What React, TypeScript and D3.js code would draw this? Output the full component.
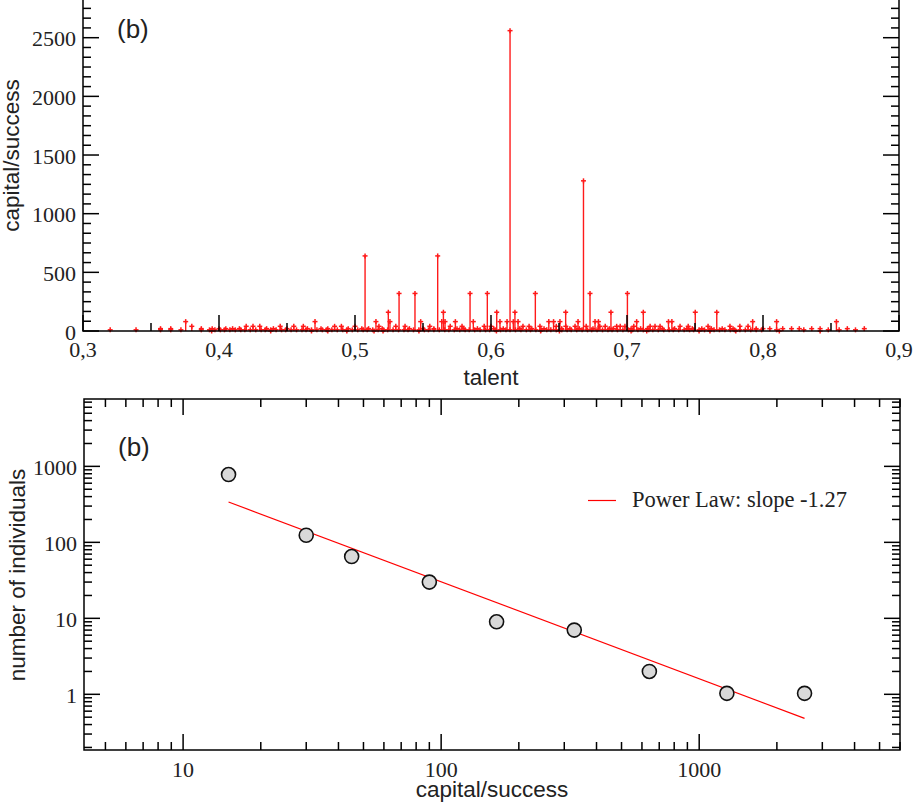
import React from "react";
import * as d3 from "d3";

// ---------- Top panel: capital/success vs talent (stem plot) ----------
const talent2560 = [0.614];
const talent1280 = [0.668];
const talent640 = [0.5074, 0.5608];
const talent320 = [0.5324, 0.5441, 0.5846, 0.5973, 0.6326, 0.6728, 0.7003];
const talent160 = [0.5245, 0.565, 0.6042, 0.6176, 0.6549, 0.6882, 0.712, 0.7502, 0.766];
const talent80 = [
  0.3755, 0.4706, 0.5154, 0.5257, 0.5483, 0.5638, 0.5662, 0.5738, 0.587, 0.6066,
  0.6118, 0.6164, 0.6199, 0.6425, 0.646, 0.6507, 0.664, 0.6765, 0.679, 0.7071,
  0.7305, 0.733, 0.7924, 0.81, 0.854,
];
const talent40 = [
  0.38, 0.42, 0.425, 0.43, 0.445, 0.485, 0.5176, 0.5368, 0.5787, 0.595, 0.6235,
  0.636, 0.6618, 0.68, 0.684, 0.6924, 0.695, 0.6985, 0.717, 0.7206, 0.7243, 0.739,
  0.7596, 0.7757, 0.783, 0.789, 0.455, 0.462, 0.49, 0.5, 0.53, 0.555, 0.57, 0.6,
  0.628, 0.648, 0.655, 0.67, 0.705, 0.745,
];
const talent20 = [
  0.744, 0.805, 0.8145, 0.821, 0.8267, 0.8358, 0.842, 0.862, 0.8745, 0.357, 0.3645,
  0.387, 0.395, 0.4, 0.405, 0.41, 0.415, 0.435, 0.44, 0.45, 0.465, 0.475, 0.48,
  0.495, 0.505, 0.51, 0.52, 0.54, 0.55, 0.558, 0.575, 0.58, 0.59, 0.602, 0.609,
  0.621, 0.63, 0.639, 0.652, 0.658, 0.665, 0.675, 0.687, 0.69, 0.703, 0.71, 0.715,
  0.726, 0.735, 0.748, 0.755, 0.762, 0.77, 0.778, 0.795, 0.8,
];
const talent10 = [
  0.32, 0.339, 0.357, 0.3645, 0.372, 0.387, 0.393, 0.397, 0.401, 0.404, 0.408,
  0.412, 0.416, 0.419, 0.423, 0.427, 0.431, 0.434, 0.438, 0.442, 0.446, 0.449,
  0.453, 0.457, 0.461, 0.464, 0.468, 0.472, 0.476, 0.479, 0.483, 0.487, 0.491,
  0.494, 0.498, 0.502, 0.506, 0.509, 0.513, 0.517, 0.521, 0.524, 0.528, 0.532,
  0.536, 0.539, 0.543, 0.547, 0.551, 0.554, 0.558, 0.562, 0.566, 0.569, 0.573,
  0.577, 0.581, 0.584, 0.588, 0.592, 0.596, 0.599, 0.603, 0.607, 0.611, 0.614,
  0.618, 0.622, 0.626, 0.629, 0.633, 0.637, 0.641, 0.644, 0.648, 0.652, 0.656,
  0.659, 0.663, 0.667, 0.671, 0.674, 0.678, 0.682, 0.686, 0.689, 0.693, 0.697,
  0.701, 0.704, 0.708, 0.712, 0.716, 0.719, 0.723, 0.727, 0.731, 0.734, 0.738,
  0.742, 0.746, 0.749, 0.753, 0.757, 0.761, 0.764, 0.768, 0.772, 0.776, 0.779,
  0.783, 0.787, 0.791, 0.795, 0.799, 0.81, 0.83, 0.848, 0.856, 0.868,
];
const talent0 = [
  0.3946, 0.438, 0.468, 0.48, 0.494, 0.514, 0.5206, 0.547, 0.604, 0.6365, 0.6503,
  0.703, 0.7145, 0.753, 0.761, 0.78, 0.812, 0.842,
];
const stemLevels = [2560, 1280, 640, 320, 160, 80, 40, 20, 10, 0];
const stemTalents = [
  talent2560, talent1280, talent640, talent320, talent160, talent80, talent40,
  talent20, talent10, talent0,
];

const topXTicks = [0.3, 0.4, 0.5, 0.6, 0.7, 0.8, 0.9];
const topXLabels = ["0,3", "0,4", "0,5", "0,6", "0,7", "0,8", "0,9"];
const topYTicks = [0, 500, 1000, 1500, 2000, 2500];
const topYLabels = ["0", "500", "1000", "1500", "2000", "2500"];

// ---------- Bottom panel: distribution of capital (log-log) ----------
const binCapital = [15, 30, 45, 90, 164, 328, 641, 1280, 2560];
const binCount = [780, 124, 65, 30, 9, 7, 2, 1.03, 1.03];
const fitCapital = [15, 2560];
const fitCount = [340, 0.483];
const legendLabel = "Power Law: slope -1.27";

const botXTicks = [10, 100, 1000];
const botXLabels = ["10", "100", "1000"];
const botYTicks = [1, 10, 100, 1000];
const botYLabels = ["1", "10", "100", "1000"];

const SERIF = "'Liberation Serif', 'Times New Roman', serif";
const SANS = "'Liberation Sans', Arial, Helvetica, sans-serif";
const FS = 22;
const MAJ = 16;
const MIN = 8;
const AX = 1.5;

function logMinors(lo: number, hi: number): number[] {
  const out: number[] = [];
  for (let e = Math.floor(Math.log10(lo)); e <= Math.ceil(Math.log10(hi)); e++) {
    for (let m = 2; m <= 9; m++) {
      const v = m * Math.pow(10, e);
      if (v >= lo && v <= hi) out.push(v);
    }
  }
  return out;
}

export default function App() {
  const xT = d3.scaleLinear().domain([0.3, 0.9]).range([83, 899]);
  const yT = d3.scaleLinear().domain([0, 3000]).range([331, 331 - 3000 * 0.11732]);
  const xB = d3.scaleLog().domain([4.13, 6000]).range([84, 900]);
  const yB = d3.scaleLog().domain([0.185, 7700]).range([750, 399]);

  const stems: { t: number; v: number }[] = [];
  stemLevels.forEach((lv, i) => stemTalents[i].forEach((t) => stems.push({ t, v: lv })));

  const topXMinor = d3.range(0.35, 0.9, 0.1);
  const topYMinor = d3
    .range(0, 3000.1, 500 / 6)
    .filter((v) => Math.abs(v / 500 - Math.round(v / 500)) > 0.01);

  const [tx0, tx1] = xT.range();
  const [ty0, ty1] = yT.range();
  const [bx0, bx1] = xB.range();
  const [by0, by1] = yB.range();

  const botXMinor = logMinors(4.13, 6000);
  const botYMinor = logMinors(0.185, 7700);

  const fitLine = d3
    .line<number>()
    .x((_, i) => xB(fitCapital[i]))
    .y((d) => yB(d))(fitCount);

  const RED = "#ff1a1a";

  return (
    <svg
      width={915}
      height={811}
      style={{ position: "absolute", left: 0, top: 0, background: "#fff" }}
    >
      <rect x={0} y={0} width={915} height={811} fill="#fff" />

      {/* ===== TOP PANEL ===== */}
      <g>
        {stems.map((s, i) => {
          const x = xT(s.t);
          const y = yT(s.v);
          return (
            <g key={"s" + i}>
              <line x1={x} x2={x} y1={ty0} y2={y} stroke={RED} strokeWidth={1.4} />
              <line x1={x - 2.5} x2={x + 2.5} y1={y} y2={y} stroke={RED} strokeWidth={1.5} />
              <line x1={x} x2={x} y1={y - 2.5} y2={y + 2.5} stroke={RED} strokeWidth={1.5} />
            </g>
          );
        })}
        <rect x={tx0} y={ty1} width={tx1 - tx0} height={ty0 - ty1} fill="none" stroke="#000" strokeWidth={AX} />
        {topXTicks.map((v, i) => (
          <g key={"txt" + i}>
            <line x1={xT(v)} x2={xT(v)} y1={ty0} y2={ty0 - MAJ} stroke="#000" strokeWidth={AX} />
            <line x1={xT(v)} x2={xT(v)} y1={ty1} y2={ty1 + MAJ} stroke="#000" strokeWidth={AX} />
            <text x={xT(v)} y={356.5} textAnchor="middle" fontFamily={SERIF} fontSize={FS} fill="#222">
              {topXLabels[i]}
            </text>
          </g>
        ))}
        {topXMinor.map((v, i) => (
          <g key={"txm" + i}>
            <line x1={xT(v)} x2={xT(v)} y1={ty0} y2={ty0 - MIN} stroke="#000" strokeWidth={AX} />
            <line x1={xT(v)} x2={xT(v)} y1={ty1} y2={ty1 + MIN} stroke="#000" strokeWidth={AX} />
          </g>
        ))}
        {topYTicks.map((v, i) => (
          <g key={"tyt" + i}>
            <line x1={tx0} x2={tx0 + MAJ} y1={yT(v)} y2={yT(v)} stroke="#000" strokeWidth={AX} />
            <line x1={tx1} x2={tx1 - MAJ} y1={yT(v)} y2={yT(v)} stroke="#000" strokeWidth={AX} />
            <text x={76} y={yT(v) + 8.5} textAnchor="end" fontFamily={SERIF} fontSize={FS} fill="#222">
              {topYLabels[i]}
            </text>
          </g>
        ))}
        {topYMinor.map((v, i) => (
          <g key={"tym" + i}>
            <line x1={tx0} x2={tx0 + MIN} y1={yT(v)} y2={yT(v)} stroke="#000" strokeWidth={AX} />
            <line x1={tx1} x2={tx1 - MIN} y1={yT(v)} y2={yT(v)} stroke="#000" strokeWidth={AX} />
          </g>
        ))}
        <text x={491} y={385} textAnchor="middle" fontFamily={SANS} fontSize={22.5} fill="#222">
          talent
        </text>
        <text
          transform="translate(18.5,155.5) rotate(-90)"
          textAnchor="middle"
          fontFamily={SANS}
          fontSize={22.5}
          fill="#222"
        >
          capital/success
        </text>
        <text x={117} y={37.5} fontFamily={SANS} fontSize={26} fill="#222">
          (b)
        </text>
      </g>

      {/* ===== BOTTOM PANEL ===== */}
      <g>
        <path d={fitLine || ""} fill="none" stroke="#ff0000" strokeWidth={1.2} />
        {binCapital.map((c, i) => (
          <circle
            key={"pt" + i}
            cx={xB(c)}
            cy={yB(binCount[i])}
            r={7}
            fill="#d9d9d9"
            stroke="#111"
            strokeWidth={1.6}
          />
        ))}
        <rect x={bx0} y={by1} width={bx1 - bx0} height={by0 - by1} fill="none" stroke="#000" strokeWidth={AX} />
        {botXTicks.map((v, i) => (
          <g key={"bxt" + i}>
            <line x1={xB(v)} x2={xB(v)} y1={by0} y2={by0 - MAJ} stroke="#000" strokeWidth={AX} />
            <line x1={xB(v)} x2={xB(v)} y1={by1} y2={by1 + MAJ} stroke="#000" strokeWidth={AX} />
            <text x={xB(v)} y={776.5} textAnchor="middle" fontFamily={SERIF} fontSize={FS} fill="#222">
              {botXLabels[i]}
            </text>
          </g>
        ))}
        {botXMinor.map((v, i) => (
          <g key={"bxm" + i}>
            <line x1={xB(v)} x2={xB(v)} y1={by0} y2={by0 - MIN} stroke="#000" strokeWidth={AX} />
            <line x1={xB(v)} x2={xB(v)} y1={by1} y2={by1 + MIN} stroke="#000" strokeWidth={AX} />
          </g>
        ))}
        {botYTicks.map((v, i) => (
          <g key={"byt" + i}>
            <line x1={bx0} x2={bx0 + MAJ} y1={yB(v)} y2={yB(v)} stroke="#000" strokeWidth={AX} />
            <line x1={bx1} x2={bx1 - MAJ} y1={yB(v)} y2={yB(v)} stroke="#000" strokeWidth={AX} />
            <text x={77} y={yB(v) + 8.5} textAnchor="end" fontFamily={SERIF} fontSize={FS} fill="#222">
              {botYLabels[i]}
            </text>
          </g>
        ))}
        {botYMinor.map((v, i) => (
          <g key={"bym" + i}>
            <line x1={bx0} x2={bx0 + MIN} y1={yB(v)} y2={yB(v)} stroke="#000" strokeWidth={AX} />
            <line x1={bx1} x2={bx1 - MIN} y1={yB(v)} y2={yB(v)} stroke="#000" strokeWidth={AX} />
          </g>
        ))}
        <line x1={588} x2={616} y1={500.5} y2={500.5} stroke="#ff0000" strokeWidth={1.2} />
        <text x={632} y={507} fontFamily={SERIF} fontSize={22.5} fill="#222">
          {legendLabel}
        </text>
        <text x={492} y={797} textAnchor="middle" fontFamily={SANS} fontSize={22.5} fill="#222">
          capital/success
        </text>
        <text
          transform="translate(24.5,575) rotate(-90)"
          textAnchor="middle"
          fontFamily={SANS}
          fontSize={22.5}
          fill="#222"
        >
          number of individuals
        </text>
        <text x={118} y={455.5} fontFamily={SANS} fontSize={26} fill="#222">
          (b)
        </text>
      </g>
    </svg>
  );
}
